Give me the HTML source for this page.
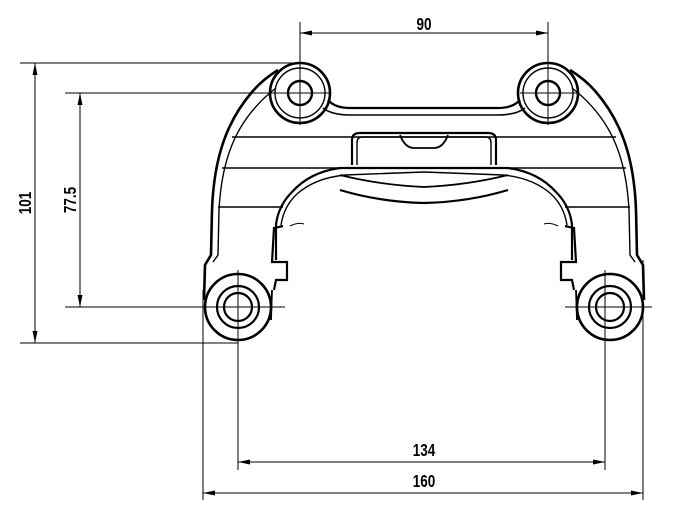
<!DOCTYPE html>
<html><head><meta charset="utf-8"><style>
html,body{margin:0;padding:0;background:#fff}
svg{display:block}
text{font-family:"Liberation Sans Narrow","Liberation Sans",sans-serif;font-weight:bold;font-size:18px;fill:#000}
</style></head><body>
<svg width="675" height="511" viewBox="0 0 675 511" xmlns="http://www.w3.org/2000/svg">
<defs>
<g id="half" fill="none" stroke="#000">
  <!-- top boss -->
  <circle cx="300" cy="93" r="30" stroke-width="2.6"/>
  <circle cx="300" cy="93" r="25" stroke-width="1.4"/>
  <circle cx="300" cy="93" r="12" stroke-width="2.4"/>
  <!-- outer left contour -->
  <path d="M278,70 Q262,80 252,92 C228,120 214,155 212,210 L211,255 L205,265 L204,300" stroke-width="2.6"/>
  <path d="M276,88 C240,116 222,152 219,210 L218,255 L213,262" stroke-width="1.4"/>
  <!-- top bar -->
  <path d="M328,100 Q335,108 350,108 L424,108" stroke-width="2.2"/>
  <path d="M323,108 Q332,115 350,115 L424,115" stroke-width="1.6"/>
  <!-- horizontal section lines -->
  <line x1="232" y1="137" x2="424" y2="137" stroke-width="1.4"/>
  <line x1="222" y1="168" x2="424" y2="168" stroke-width="1.4"/>
  <line x1="218" y1="207" x2="283" y2="207" stroke-width="1.4"/>
  <!-- central pocket -->
  <path d="M424,133 L360,133 Q352,133 352,140 L352,165" stroke-width="2.2"/>
  <path d="M424,137 L362,137 Q357,137 357,143 L357,165" stroke-width="1.4"/>
  <path d="M400,135 Q405,148 414,148 L424,148" stroke-width="1.8"/>
  <!-- inner arch -->
  <path d="M276,260 L276,225 Q278,206 292,192 Q310,172 340,168 L424,168" stroke-width="2.2"/>
  <path d="M281,225 Q284,206 297,194 Q315,178 345,175 L424,172" stroke-width="1.4"/>
  <path d="M340,175 Q380,185 424,187" stroke-width="1.8"/>
  <path d="M340,190 Q380,202 424,203" stroke-width="2.2"/>
  <!-- tab -->
  <path d="M283,226 L274,228 L272,262 L287,262 L287,280 L276,280 L274,290" stroke-width="2.2"/>
  <path d="M290,226 Q298,222 304,224" stroke-width="1"/>
  <!-- bottom boss -->
  <circle cx="238" cy="307" r="33" stroke-width="2.6"/>
  <circle cx="238" cy="307" r="21" stroke-width="2.2"/>
  <circle cx="238" cy="307" r="14" stroke-width="2.2"/>
  <path d="M272,290 L271,320" stroke-width="1.8"/>
</g>
</defs>
<use href="#half"/>
<use href="#half" transform="translate(848,0) scale(-1,1)"/>
<g stroke="#000" stroke-width="1" fill="none">
  <line x1="300" y1="22" x2="300" y2="125"/>
  <line x1="548" y1="22" x2="548" y2="125"/>
  <line x1="20" y1="63" x2="300" y2="63"/>
  <line x1="65" y1="93" x2="330" y2="93"/>
  <line x1="520" y1="93" x2="578" y2="93"/>
  <line x1="65" y1="307" x2="285" y2="307"/>
  <line x1="565" y1="307" x2="652" y2="307"/>
  <line x1="20" y1="343" x2="238" y2="343"/>
  <line x1="238" y1="270" x2="238" y2="470"/>
  <line x1="605" y1="270" x2="605" y2="470"/>
  <line x1="203" y1="290" x2="203" y2="500"/>
  <line x1="643" y1="260" x2="643" y2="500"/>
  <line x1="300" y1="33" x2="548" y2="33"/>
  <line x1="35" y1="63" x2="35" y2="343"/>
  <line x1="80" y1="93" x2="80" y2="307"/>
  <line x1="238" y1="462" x2="605" y2="462"/>
  <line x1="203" y1="493" x2="643" y2="493"/>
</g>
<g fill="#000">
  <path d="M300,33 l12,-2.5 v5z"/><path d="M548,33 l-12,-2.5 v5z"/>
  <path d="M35,63 l-2.5,12 h5z"/><path d="M35,343 l-2.5,-12 h5z"/>
  <path d="M80,93 l-2.5,12 h5z"/><path d="M80,307 l-2.5,-12 h5z"/>
  <path d="M238,462 l12,-2.5 v5z"/><path d="M605,462 l-12,-2.5 v5z"/>
  <path d="M203,493 l12,-2.5 v5z"/><path d="M643,493 l-12,-2.5 v5z"/>
</g>
<text transform="translate(424,30) scale(0.75,1)" text-anchor="middle">90</text>
<text transform="translate(424,456) scale(0.75,1)" text-anchor="middle">134</text>
<text transform="translate(424,487) scale(0.75,1)" text-anchor="middle">160</text>
<text transform="translate(31,203) rotate(-90) scale(0.75,1)" text-anchor="middle">101</text>
<text transform="translate(76,200) rotate(-90) scale(0.75,1)" text-anchor="middle">77.5</text>
</svg>
</body></html>
